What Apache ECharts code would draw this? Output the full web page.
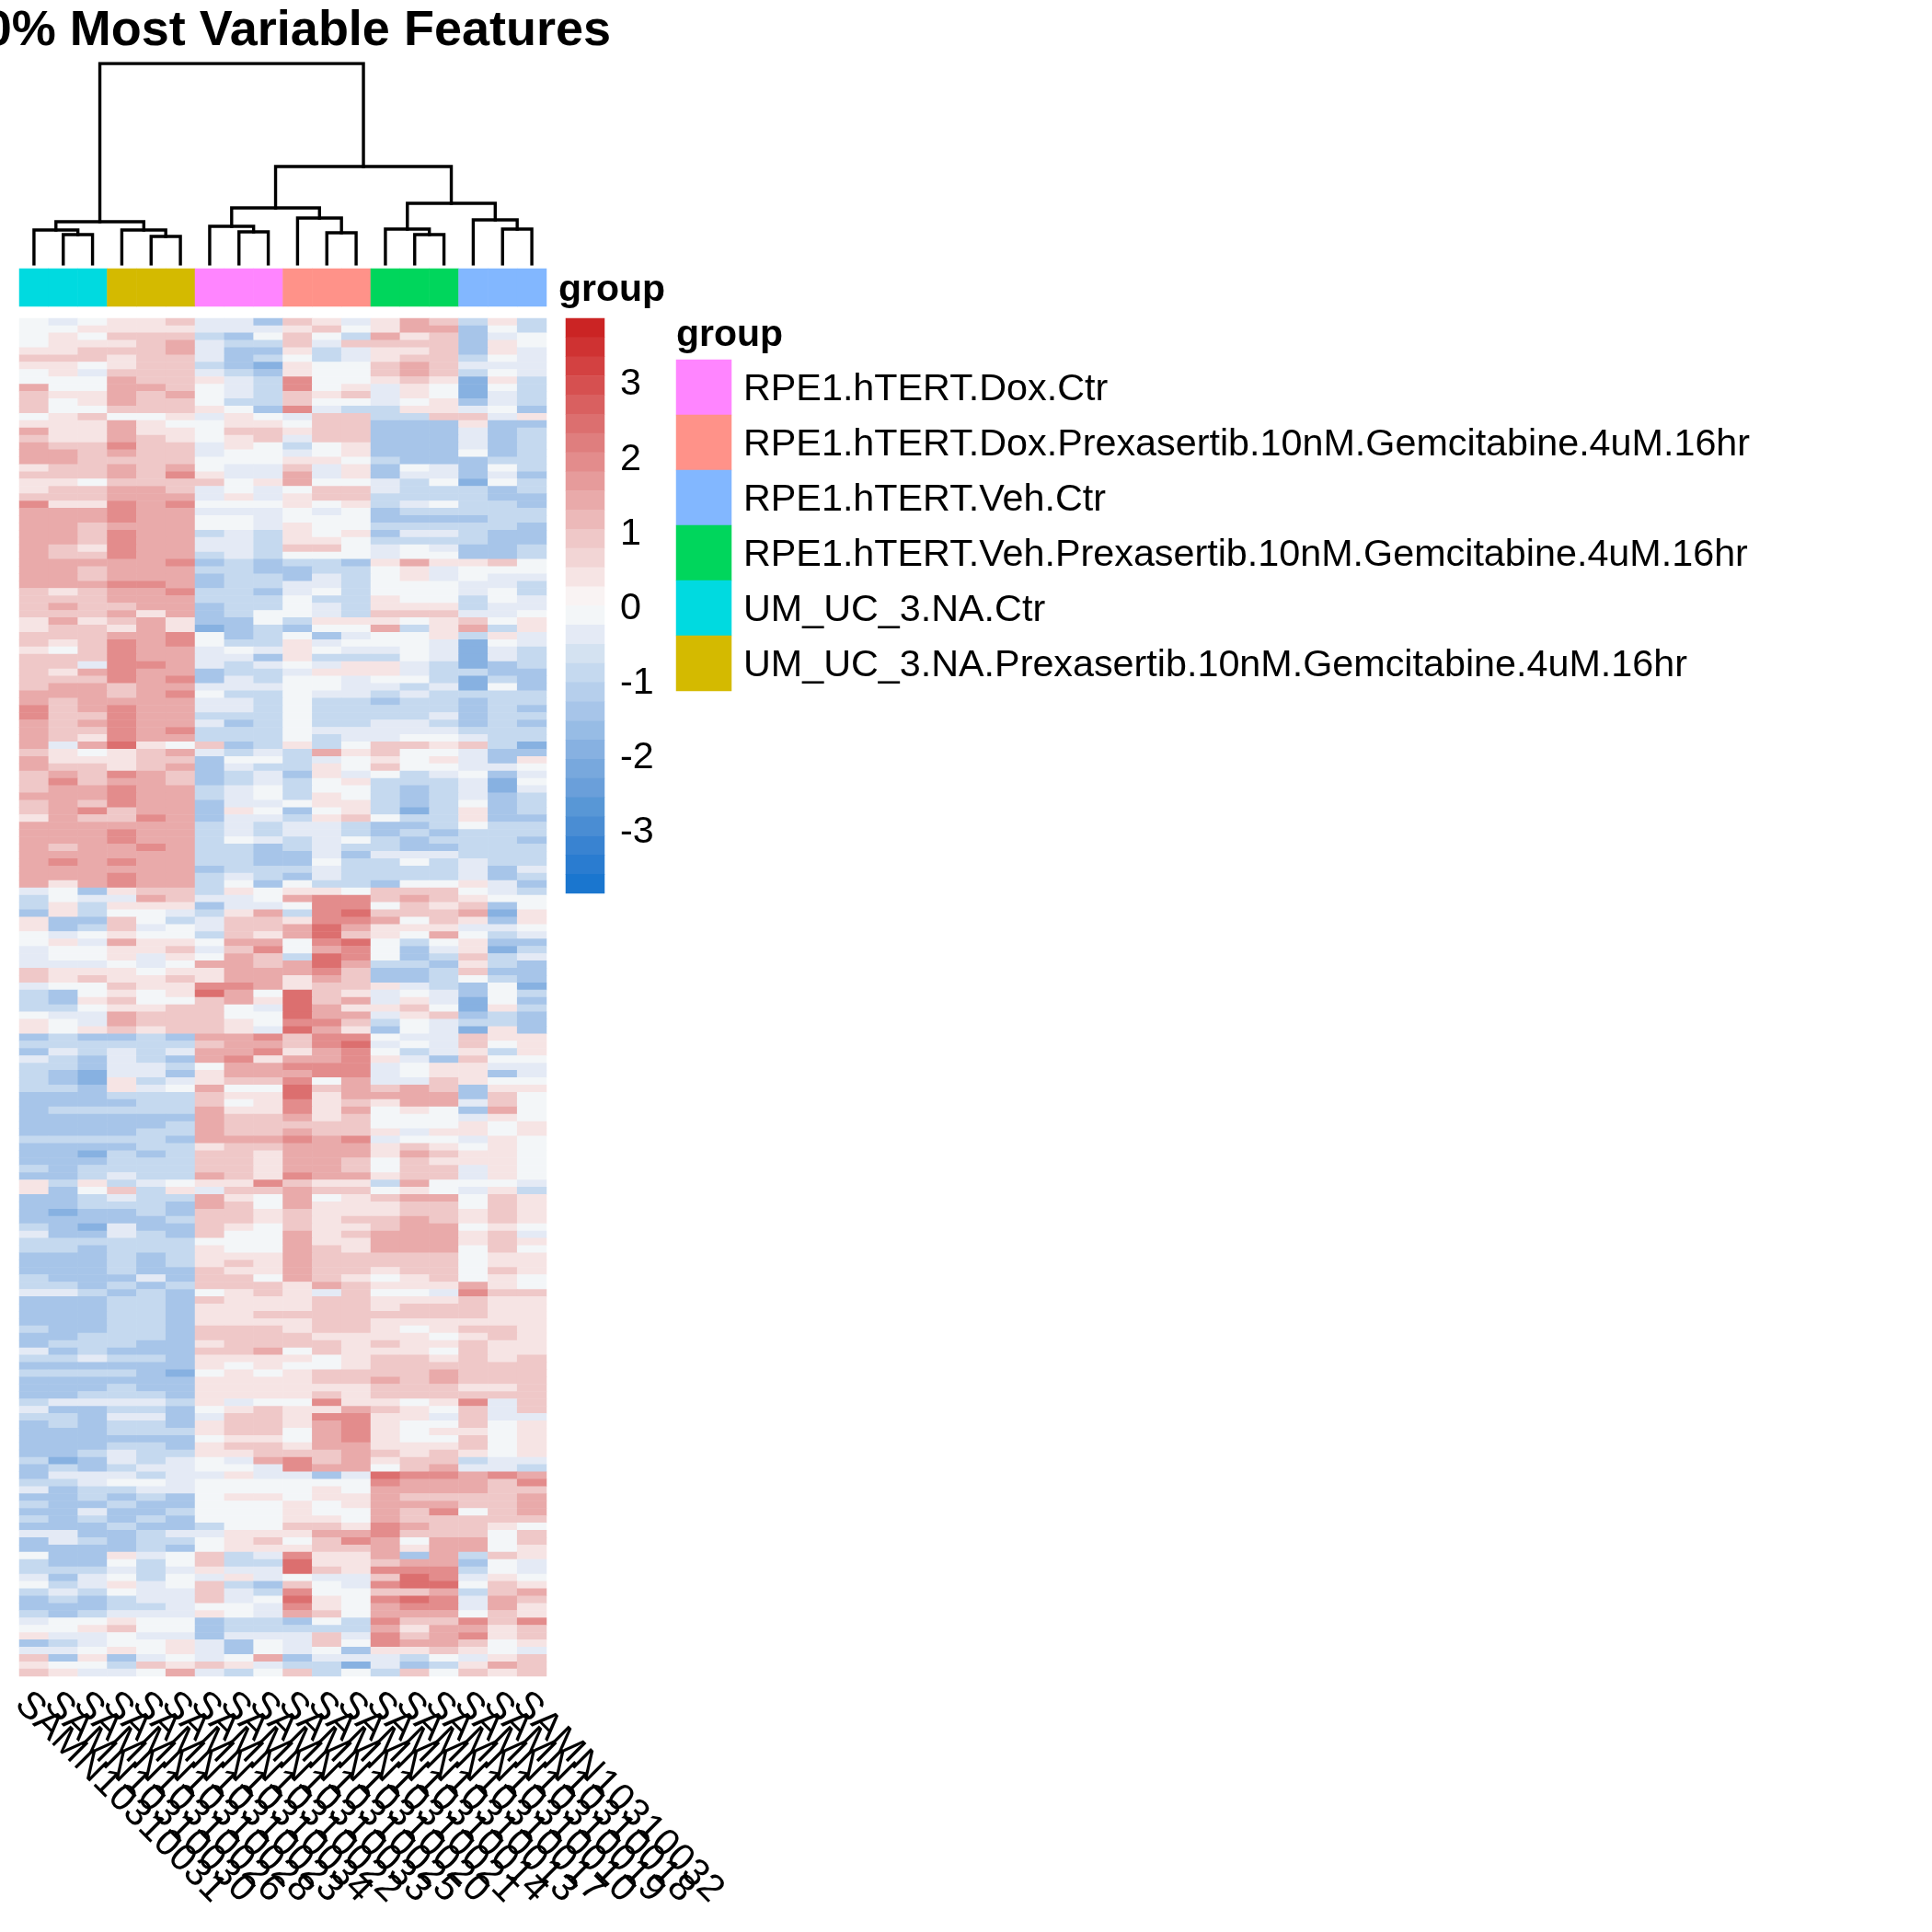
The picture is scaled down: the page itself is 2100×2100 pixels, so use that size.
<!DOCTYPE html>
<html><head><meta charset="utf-8">
<script src="https://cdn.jsdelivr.net/npm/echarts@6/dist/echarts.min.js"></script>
<style>html,body{margin:0;padding:0;background:#fff}#c{width:2100px;height:2100px}</style>
</head><body><div id="c"></div>
<script>
// Each character is one cell: 0=-3, 1=-2.5, ... 6=0, ... A=2, B=2.5, C=3
const LEVELS = "0123456789ABC";
const heatTop = ["656 778 553 875 798 474","667 777 555 786 799 364","676 888 436 864 978 356","677 789 544 858 888 376","778 889 533 745 778 375","888 788 534 645 788 465","776 788 432 766 898 555","675 888 543 766 898 465","666 988 754 A66 787 274","966 998 654 A67 576 264","877 989 654 878 576 254","867 988 644 866 567 354","866 888 763 A54 477 563","678 667 576 588 448 857","777 976 677 688 333 733","977 977 688 788 333 534","877 987 678 588 333 534","988 A88 576 467 333 534","998 988 566 567 333 634","998 888 666 776 433 344","788 989 655 857 365 364","888 98A 755 957 355 353","776 888 867 966 546 264","788 998 565 688 544 434","888 999 575 788 444 433","A77 A9A 666 767 456 443","999 A99 555 656 344 444","999 A99 665 666 333 344","998 999 665 766 444 443","998 A99 454 767 355 433","998 A99 554 776 444 433","987 A99 554 886 565 334","988 A99 454 666 566 334","999 99A 343 443 797 786","998 999 443 344 675 666","998 999 344 354 675 655","999 AA9 344 554 666 554"];
const heatUpper = ["878 99A 443 564 666 564","888 999 444 644 766 465","898 899 344 654 777 455","888 979 346 654 888 556","797 897 336 477 767 867","788 797 234 366 947 947","888 99A 634 635 667 475","878 A9A 644 756 665 265","768 A99 565 765 565 254","888 A99 553 744 465 254","885 AA9 545 657 754 234","879 A99 344 577 754 433","888 A9A 354 665 664 243","899 899 555 665 545 263","999 89A 644 655 454 444","989 999 554 644 344 344","A89 A99 554 644 444 343","A88 A99 444 644 445 344","989 A99 534 644 554 343","988 A9A 444 655 555 444","987 A99 444 645 566 544","959 B76 834 746 887 842","876 789 545 497 866 533","977 788 366 456 767 537","988 789 354 476 866 556"];
const heatMiddleA = ["898 A98 345 375 645 635","8A8 998 345 467 444 526","899 A99 456 466 434 525","999 A99 456 476 434 534","898 A99 355 677 434 634","89A 899 376 367 424 734","798 8A9 355 478 644 733","999 999 454 554 334 644","999 A99 454 554 343 444","999 A99 465 456 434 443","989 9A9 443 454 433 444","999 999 443 353 555 444","9A9 A99 443 364 464 544","999 999 344 454 444 535","999 A99 454 354 444 534","979 A99 463 644 366 753","563 788 476 776 888 654","465 598 556 9AA 898 766","474 777 355 6AA 687 836","374 665 479 4AB 888 927","733 864 588 7AA 968 737","734 856 588 9B9 777 556","656 766 487 9B8 769 645","675 977 699 6AB 646 733","566 778 58A 69A 635 724"];
const heatMiddleB = ["566 757 698 4BA 634 845","555 656 998 9B9 443 743","877 767 799 9A8 334 833","878 778 799 798 334 643","566 877 AA9 788 754 362","436 767 B96 B87 565 364","437 866 897 B89 575 263","446 778 865 B97 786 274","655 988 866 B99 578 343","765 988 876 AA8 465 443","767 878 875 B97 365 273","343 343 99A 8AA 655 877","444 444 899 8AB 565 867","354 545 99A 79A 645 747","543 543 9A7 99A 753 866","443 554 699 AAA 567 755","432 553 799 9AA 567 735","432 745 788 A69 558 766","443 756 966 B89 898 377","333 444 877 B79 999 386","333 344 867 A78 799 586","344 444 977 A79 676 396","333 333 988 978 666 576","333 334 988 888 666 767","333 344 988 988 757 767"];
const heatLowerA = ["444 443 999 A9A 566 576","333 344 788 999 787 676","332 434 887 999 798 776","333 444 887 998 687 776","434 444 887 998 688 576","334 544 987 A99 788 576","747 456 77A 877 496 665","736 847 588 988 676 574","334 544 976 967 899 687","334 443 986 977 788 687","323 343 887 877 788 787","333 334 887 878 898 787","432 533 876 877 899 676","533 543 866 978 999 785","444 444 666 977 999 787","443 444 766 987 999 686","333 434 777 988 888 677","333 434 787 988 888 677","333 433 877 988 788 687","433 353 886 987 678 676","443 434 888 798 777 976","554 343 678 758 665 A88","333 443 877 788 777 877","333 443 777 788 788 877","333 443 778 888 888 877"];
const heatLowerB = ["333 443 777 788 777 777","433 443 888 788 767 887","334 443 888 877 776 787","344 433 788 887 877 877","534 333 889 687 776 877","445 443 777 767 887 878","333 333 767 667 888 888","444 432 676 788 889 888","333 333 777 788 989 888","333 433 777 777 888 778","334 443 777 787 888 888","455 554 756 6A7 767 A58","533 443 678 779 876 858","443 553 588 7AA 775 855","343 443 788 79A 766 867","333 444 788 69A 767 767","333 333 677 69A 766 867","333 443 788 799 777 867","334 544 778 889 878 767","423 545 659 A89 788 455","343 455 665 A99 689 554","355 545 575 535 BAA 9A9","445 665 666 666 A99 98A","534 455 666 676 999 988","334 343 677 677 988 889"];
const heatBottom = ["433 433 666 767 999 889","335 334 666 766 98A 689","434 343 666 776 988 888","333 433 466 887 A98 876","553 345 577 799 A88 868","354 344 678 68A 969 968","333 343 677 788 979 967","633 756 845 A77 939 487","433 646 844 B77 899 365","444 545 755 B87 AAA 465","535 646 575 655 8BA 576","645 756 843 865 ABB 687","454 655 854 A66 889 489","343 455 856 B76 ABA 598","333 445 665 A76 9AA 597","434 555 765 986 999 687","566 766 344 364 A88 A8A","667 866 344 444 979 978","755 655 355 585 A89 A78","345 667 536 586 A99 867","556 767 536 563 778 765","837 356 569 355 546 578","766 487 875 442 534 798","875 569 546 846 486 878"];

const sampleLabels = ["SAMN10310031","SAMN10310030","SAMN10310026","SAMN10310028","SAMN10310023","SAMN10310034","SAMN10310022","SAMN10310033","SAMN10310025","SAMN10310020","SAMN10310021","SAMN10310014","SAMN10310013","SAMN10310017","SAMN10310010","SAMN10310019","SAMN10310018","SAMN10310032"];
const columnGroups = [4,4,4,5,5,5,0,0,0,1,1,1,3,3,3,2,2,2];
const groupNames = ["RPE1.hTERT.Dox.Ctr","RPE1.hTERT.Dox.Prexasertib.10nM.Gemcitabine.4uM.16hr","RPE1.hTERT.Veh.Ctr","RPE1.hTERT.Veh.Prexasertib.10nM.Gemcitabine.4uM.16hr","UM_UC_3.NA.Ctr","UM_UC_3.NA.Prexasertib.10nM.Gemcitabine.4uM.16hr"];
const groupColors = ["#FF85FF","#FF9289","#82B7FF","#00D65C","#00DAE0","#D4BA00"];
const colorbarLabels = [-3,-2,-1,0,1,2,3];
const colorbarMin = -3.85, colorbarMax = 3.85;
const palette = ["#CB2424","#CF3232","#D34141","#D65050","#D96060","#DC6F6F","#DF7E7E","#E38C8C","#E69B9B","#E9AAAA","#ECB9B9","#EFC8C8","#F2D5D5","#F6E4E4","#F9F3F3","#F3F6F8","#E4EAF5","#D4E2F1","#C5D9EF","#B6CFEC","#A7C5E9","#97BCE5","#87B1E1","#78A8DD","#6A9FDA","#5897D6","#4A8DD3","#3983D1","#2A7CD0","#1A76CF"];
// hclust-style merges: negative = leaf column (1-based), positive = earlier merge (1-based)
const mergeLeft   = [-2,-1,-5,-4,2,-8,-7,-11,-10,7,-14,-13,-17,-16,12,10,5];
const mergeRight  = [-3,1,-6,3,4,-9,6,-12,8,9,-15,11,-18,13,14,15,16];
const mergeHeight = [32,37,30,37,46,35,41,34,50,61,32,38,38,48,66,106,218];

const FONT = "Liberation Sans";
const heatRows = [].concat(heatTop,heatUpper,heatMiddleA,heatMiddleB,heatLowerA,heatLowerB,heatBottom).map(r=>r.replace(/ /g,""));
const heatData = [];
heatRows.forEach((r,y)=>{ for(let x=0;x<18;x++){ heatData.push([x,y,(LEVELS.indexOf(r[x])-6)*0.5]); } });

const step = (colorbarMax-colorbarMin)/palette.length;
const heatPieces = palette.map((c,i)=>({min:colorbarMax-step*(i+1),max:colorbarMax-step*i,color:c}));
const barData = palette.map((c,i)=>[0,i,colorbarMax-step*(i+0.5)]);

const nodeX=[],nodeH=[],dendroSegs=[];
const getX=v=>v<0?(-v-1):nodeX[v-1];
const getH=v=>v<0?0:nodeH[v-1];
mergeHeight.forEach((h,i)=>{
  const a=mergeLeft[i],b=mergeRight[i];
  nodeX.push((getX(a)+getX(b))/2); nodeH.push(h);
  dendroSegs.push({coords:[[getX(a),getH(a)],[getX(a),h],[getX(b),h],[getX(b),getH(b)]]});
});

const cols = sampleLabels.map((s,i)=>i);
const option = {
  backgroundColor:"#fff",
  animation:false,
  textStyle:{fontFamily:FONT,color:"#000"},
  title:{text:"10% Most Variable Features",left:659,top:2,textAlign:"right",textStyle:{fontFamily:FONT,fontWeight:"bold",fontSize:54,color:"#000"}},
  graphic:[
    {type:"text",x:607,y:316,style:{text:"group",fontFamily:FONT,fontWeight:"bold",fontSize:41,fill:"#000",textVerticalAlign:"middle"}},
    {type:"text",x:735,y:365,style:{text:"group",fontFamily:FONT,fontWeight:"bold",fontSize:41,fill:"#000",textVerticalAlign:"middle"}}
  ],
  grid:[
    {left:21,width:573,top:346,height:1476},
    {left:21,width:573,top:292,height:41},
    {left:21,width:573,top:69,height:218},
    {left:615,width:42,top:346,height:625},
    {left:735,width:60,top:391,height:360},
    {left:7,width:573,top:346,height:1476},
    {left:735,width:60,top:394,height:360},
    {left:615,width:42,top:349,height:625}
  ],
  xAxis:[
    {gridIndex:0,type:"category",data:cols,show:false},
    {gridIndex:1,type:"category",data:cols,show:false},
    {gridIndex:2,type:"value",min:-0.5,max:17.5,show:false},
    {gridIndex:3,type:"category",data:[0],show:false},
    {gridIndex:4,type:"category",data:[0],show:false},
    {gridIndex:5,type:"category",data:sampleLabels,axisLine:{show:false},axisTick:{show:false},
     axisLabel:{interval:0,rotate:-45,margin:24,fontFamily:FONT,fontSize:41.5,color:"#000",hideOverlap:false}},
    {gridIndex:6,type:"category",data:[0],show:false},
    {gridIndex:7,type:"category",data:[0],show:false}
  ],
  yAxis:[
    {gridIndex:0,type:"category",inverse:true,data:heatRows.map((r,i)=>i),show:false},
    {gridIndex:1,type:"category",data:[0],show:false},
    {gridIndex:2,type:"value",min:0,max:218,show:false},
    {gridIndex:3,type:"category",inverse:true,data:palette.map((c,i)=>i),show:false},
    {gridIndex:4,type:"category",inverse:true,data:groupNames,show:false},
    {gridIndex:5,type:"value",show:false},
    {gridIndex:6,type:"category",inverse:true,data:groupNames,position:"right",axisLine:{show:false},axisTick:{show:false},
     axisLabel:{interval:0,margin:13,fontFamily:FONT,fontSize:41.3,color:"#000"}},
    {gridIndex:7,type:"value",min:colorbarMin,max:colorbarMax,position:"right",splitLine:{show:false},axisLine:{show:false},axisTick:{show:false},
     axisLabel:{customValues:colorbarLabels,margin:17,fontFamily:FONT,fontSize:41.3,color:"#000"}}
  ],
  visualMap:[
    {type:"piecewise",show:false,seriesIndex:[0,3],dimension:2,pieces:heatPieces},
    {type:"piecewise",show:false,seriesIndex:[1,4],dimension:2,pieces:groupColors.map((c,i)=>({value:i,color:c}))}
  ],
  series:[
    {type:"heatmap",xAxisIndex:0,yAxisIndex:0,data:heatData,progressive:0,silent:true},
    {type:"heatmap",xAxisIndex:1,yAxisIndex:1,data:columnGroups.map((g,i)=>[i,0,g]),progressive:0,silent:true},
    {type:"lines",coordinateSystem:"cartesian2d",xAxisIndex:2,yAxisIndex:2,polyline:true,data:dendroSegs,silent:true,lineStyle:{color:"#000",width:3.4,opacity:1,cap:"square",join:"miter"}},
    {type:"heatmap",xAxisIndex:3,yAxisIndex:3,data:barData,progressive:0,silent:true},
    {type:"heatmap",xAxisIndex:4,yAxisIndex:4,data:groupNames.map((g,i)=>[0,i,i]),progressive:0,silent:true}
  ]
};
const chart = echarts.init(document.getElementById("c"),null,{renderer:"canvas",width:2100,height:2100});
chart.setOption(option);
</script></body></html>
